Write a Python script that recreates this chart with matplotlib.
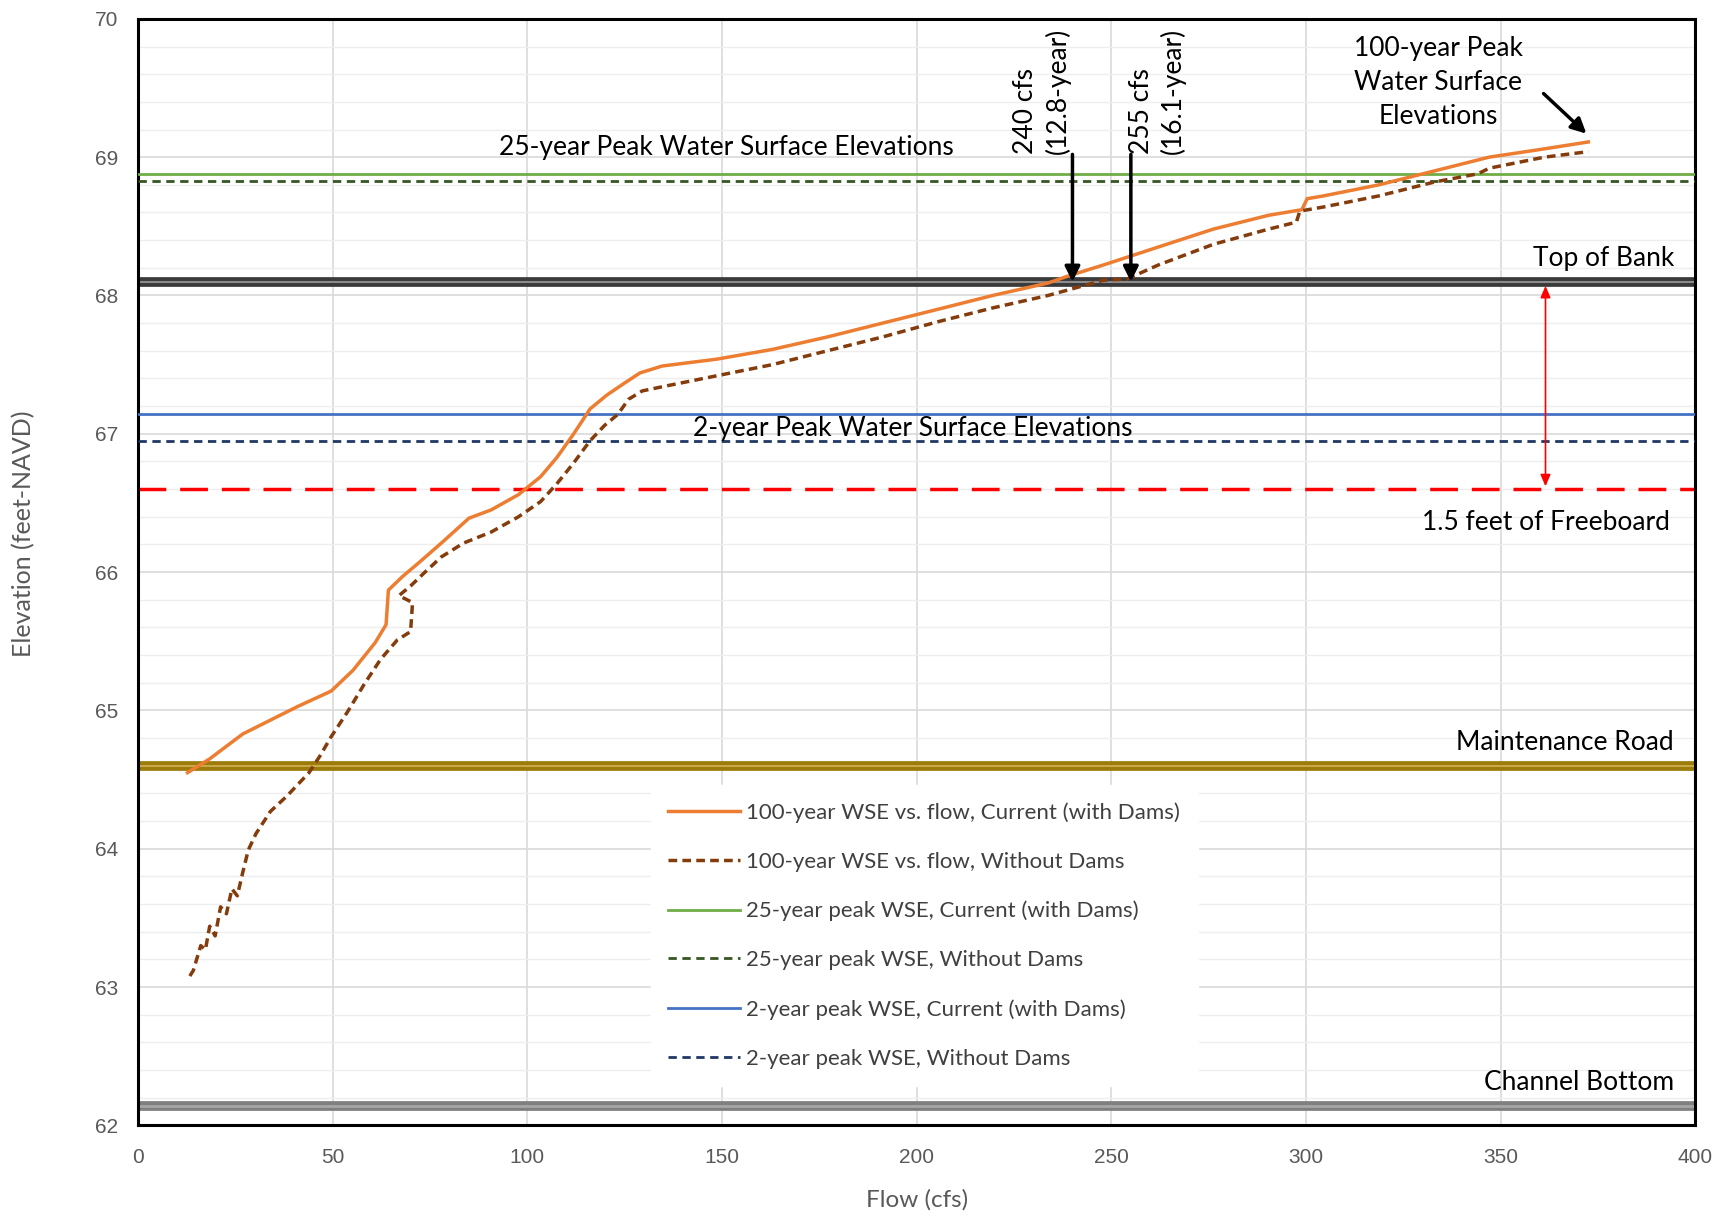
import matplotlib
matplotlib.use("Agg")
import matplotlib.pyplot as plt
from matplotlib.ticker import MultipleLocator

# 100-year WSE vs flow, current (with dams)
flow_cur = [12.7, 18.4, 26.9, 35.4, 41.1, 49.6, 55.2, 60.9, 63.7, 64.3, 68.0, 72.2, 77.9,
            85.0, 90.7, 97.7, 103.4, 107.6, 111.9, 116.1, 120.4, 124.6, 128.9, 134.6,
            148.7, 162.9, 177.0, 191.2, 205.4, 219.5, 233.7, 238.8, 247.9, 262.0, 276.2,
            290.4, 298.9, 300.3, 304.5, 318.7, 332.9, 347.0, 361.2, 372.5]
wse_cur = [64.55, 64.65, 64.83, 64.95, 65.03, 65.14, 65.29, 65.49, 65.62, 65.87, 65.97,
           66.07, 66.21, 66.39, 66.45, 66.56, 66.69, 66.83, 67.00, 67.18, 67.28, 67.36,
           67.44, 67.49, 67.54, 67.61, 67.70, 67.80, 67.90, 68.00, 68.09, 68.14, 68.22,
           68.35, 68.48, 68.58, 68.62, 68.70, 68.72, 68.80, 68.90, 69.00, 69.06, 69.11]

# 100-year WSE vs flow, without dams
flow_nod = [13.3, 14.2, 16.1, 17.3, 18.4, 19.8, 21.2, 22.7, 24.1, 25.5, 26.9, 28.3, 30.3,
            34.0, 38.2, 43.9, 46.7, 49.6, 53.8, 58.1, 62.3, 66.6, 70.0, 70.5, 67.0, 70.0,
            73.7, 77.9, 83.6, 90.7, 97.7, 103.4, 107.6, 111.9, 116.1, 119.8, 123.2, 126.0,
            129.5, 134.6, 148.7, 162.9, 177.0, 191.2, 205.4, 219.5, 233.7, 247.9, 254.1,
            262.0, 276.2, 290.4, 297.5, 298.4, 304.5, 318.7, 332.9, 344.2, 347.0, 361.2,
            372.5]
wse_nod = [63.08, 63.12, 63.30, 63.27, 63.44, 63.37, 63.58, 63.53, 63.71, 63.66, 63.83,
           63.99, 64.11, 64.27, 64.38, 64.55, 64.67, 64.81, 64.99, 65.19, 65.37, 65.51,
           65.57, 65.78, 65.83, 65.90, 66.00, 66.11, 66.21, 66.29, 66.40, 66.51, 66.64,
           66.79, 66.95, 67.06, 67.14, 67.25, 67.31, 67.34, 67.42, 67.50, 67.60, 67.70,
           67.81, 67.91, 68.00, 68.11, 68.12, 68.22, 68.37, 68.48, 68.53, 68.61, 68.64,
           68.72, 68.82, 68.88, 68.92, 69.00, 69.04]

peak25_cur = 68.88
peak25_nod = 68.83
peak2_cur = 67.14
peak2_nod = 66.95
top_of_bank = 68.10
freeboard = 66.60
maint_road = 64.60
channel_bottom = 62.14

label_font = ["Lato", "DejaVu Sans"]

fig = plt.figure(figsize=(17.3, 12.16), dpi=100)
ax = fig.add_axes([0.0798, 0.0745, 0.9002, 0.91])

ax.set_xlim(0, 400)
ax.set_ylim(62, 70)
ax.xaxis.set_major_locator(MultipleLocator(50))
ax.yaxis.set_major_locator(MultipleLocator(1))
ax.yaxis.set_minor_locator(MultipleLocator(0.2))
ax.grid(which="major", color="#d9d9d9", lw=1.2, zorder=0)
ax.grid(which="minor", axis="y", color="#eeeeee", lw=1.0, zorder=0)
ax.tick_params(which="both", length=0, labelsize=15, labelcolor="#595959")
ax.tick_params(axis="x", pad=16)
ax.tick_params(axis="y", pad=14)
for lab in ax.get_xticklabels() + ax.get_yticklabels():
    lab.set_family("Liberation Sans")
for s in ax.spines.values():
    s.set_color("black")
    s.set_linewidth(2.2)

# reference lines
ax.axhline(channel_bottom, color="#7f7f7f", lw=7, zorder=2)
ax.axhline(channel_bottom, color="#a6a6a6", lw=2, zorder=2)
ax.axhline(maint_road, color="#9c7b0a", lw=7, zorder=2)
ax.axhline(maint_road, color="#c9a94a", lw=1.5, zorder=2)
ax.axhline(top_of_bank, color="#3a3a3a", lw=7, zorder=2)
ax.axhline(top_of_bank, color="#8c8c8c", lw=1.5, zorder=2)
ax.axhline(freeboard, color="#ff0000", lw=2.5, dashes=(8, 4), zorder=2)

l1, = ax.plot(flow_cur, wse_cur, color="#ed7d31", lw=2.5, zorder=4,
              label="100-year WSE vs. flow, Current (with Dams)")
l2, = ax.plot(flow_nod, wse_nod, color="#843c0c", lw=2.5, dashes=(2.5, 1.5), zorder=4,
              label="100-year WSE vs. flow, Without Dams")
l3 = ax.axhline(peak25_cur, color="#70ad47", lw=2, zorder=3,
                label="25-year peak WSE, Current (with Dams)")
l4 = ax.axhline(peak25_nod, color="#375623", lw=2, dashes=(3, 2), zorder=3,
                label="25-year peak WSE, Without Dams")
l5 = ax.axhline(peak2_cur, color="#4472c4", lw=2, zorder=3,
                label="2-year peak WSE, Current (with Dams)")
l6 = ax.axhline(peak2_nod, color="#203864", lw=2, dashes=(3, 2), zorder=3,
                label="2-year peak WSE, Without Dams")

leg = ax.legend(handles=[l1, l2, l3, l4, l5, l6], loc="upper left",
                bbox_to_anchor=(0.322, 0.318), frameon=True, fancybox=False,
                edgecolor="white", framealpha=1, labelspacing=1.3,
                handlelength=3.2, handletextpad=0.3, borderpad=0.8,
                prop={"family": label_font, "size": 16})
for t in leg.get_texts():
    t.set_color("#404040")
leg.set_zorder(5)

# annotations
txt = dict(family=label_font, fontsize=19, color="black", zorder=6)
ax.text(151, 69.07, "25-year Peak Water Surface Elevations", ha="center", va="center", **txt)
ax.text(199, 67.04, "2-year Peak Water Surface Elevations", ha="center", va="center", **txt)
ax.text(394.5, 68.27, "Top of Bank", ha="right", va="center", **txt)
ax.text(393.5, 66.36, "1.5 feet of Freeboard", ha="right", va="center", **txt)
ax.text(394.5, 64.77, "Maintenance Road", ha="right", va="center", **txt)
ax.text(394.5, 62.31, "Channel Bottom", ha="right", va="center", **txt)
ax.text(334, 69.54, "100-year Peak\nWater Surface\nElevations", ha="center", va="center",
        linespacing=1.45, **txt)
ax.text(239.5, 69.02, "240 cfs\n(12.8-year)", rotation=90, ha="right", va="bottom",
        multialignment="left", linespacing=1.3, **txt)
ax.text(254.5, 69.02, "255 cfs\n(16.1-year)", rotation=90, ha="left", va="bottom",
        multialignment="left", linespacing=1.3, **txt)

arrow = dict(arrowstyle="-|>,head_width=0.45,head_length=0.9", color="black", lw=2.5,
             shrinkA=0, shrinkB=0)
ax.annotate("", xy=(240, 68.1), xytext=(240, 69.02), arrowprops=arrow, zorder=6)
ax.annotate("", xy=(255, 68.1), xytext=(255, 69.02), arrowprops=arrow, zorder=6)
ax.annotate("", xy=(372, 69.17), xytext=(361, 69.46), arrowprops=arrow, zorder=6)
ax.annotate("", xy=(361.5, 68.07), xytext=(361.5, 66.62),
            arrowprops=dict(arrowstyle="<|-|>,head_width=0.3,head_length=0.7",
                            color="#ff0000", lw=1.2, shrinkA=0, shrinkB=0), zorder=6)

ax.set_xlabel("Flow (cfs)", family=label_font, fontsize=17.5, color="#595959", labelpad=16)
ax.set_ylabel("Elevation (feet-NAVD)", family=label_font, fontsize=18, color="#595959")
ax.yaxis.set_label_coords(-0.066, 0.535)

fig.savefig("out.png", dpi=100)
